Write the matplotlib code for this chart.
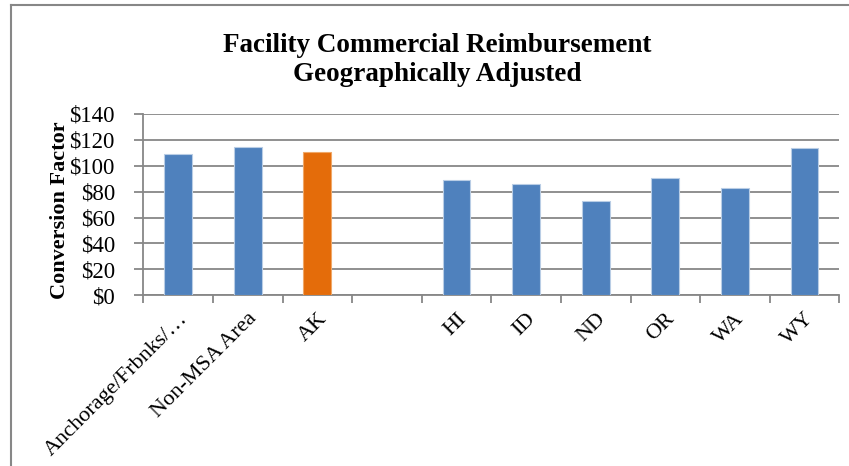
import numpy as np
import matplotlib

matplotlib.use('agg')

import matplotlib.pyplot as plt

categories = ['Anchorage/Frbnks/…', 'Non-MSA Area', 'AK', '',
              'HI', 'ID', 'ND', 'OR', 'WA', 'WY']
values = [108.9, 114.3, 110.7, np.nan, 88.8, 85.9, 72.6, 90.3, 83.1, 114.0]
highlight = 'AK'
y_ticks = [0, 20, 40, 60, 80, 100, 120, 140]

BLUE = '#4F81BD'
ORANGE = '#E46C0A'
GRID = '#878787'

plt.rcParams['font.family'] = ['Liberation Serif', 'DejaVu Serif']


def main():
    fig = plt.figure(figsize=(8.49, 4.66), dpi=100)
    ax = fig.add_axes([0.1688, 0.3663, 0.9886 - 0.1688, 0.7554 - 0.3663])

    x = np.arange(len(categories))
    colors = [ORANGE if c == highlight else BLUE for c in categories]
    edges = ['#F0A868' if c == highlight else '#B9CDE5' for c in categories]
    ax.bar(x, values, width=0.4, color=colors, edgecolor=edges,
           linewidth=0.8, zorder=3)

    ax.set_xlim(-0.5, len(categories) - 0.5)
    ax.set_ylim(0, 140)
    ax.set_yticks(y_ticks)
    ax.set_yticklabels(['$%d' % v for v in y_ticks], fontsize=16.5)
    ax.yaxis.grid(True, color=GRID, linewidth=1.3, zorder=0)

    ax.set_xticks(x)
    ax.set_xticklabels(categories, rotation=45, ha='right', va='top',
                       rotation_mode='anchor', fontsize=16)
    ax.tick_params(axis='x', length=0, pad=10)
    ax.set_xticks(np.arange(len(categories) + 1) - 0.5, minor=True)
    ax.tick_params(axis='x', which='minor', length=6, color=GRID, width=1.3)
    ax.tick_params(axis='y', length=6.5, color=GRID, width=1.3, pad=14)

    for side in ['top', 'right']:
        ax.spines[side].set_visible(False)
    for side in ['left', 'bottom']:
        ax.spines[side].set_color(GRID)
        ax.spines[side].set_linewidth(1.3)

    ax.set_ylabel('Conversion Factor', fontsize=16, fontweight='bold')
    ax.yaxis.set_label_coords(-0.105, 0.472)

    fig.text(0.515, 0.872, 'Facility Commercial Reimbursement\nGeographically Adjusted',
             ha='center', va='center', fontsize=19.5, fontweight='bold',
             linespacing=1.22)

    # chart frame, only left and top edges show in the crop
    fig.add_artist(plt.Line2D([0.013, 0.013], [0, 0.989], color=GRID,
                              linewidth=1.5, transform=fig.transFigure))
    fig.add_artist(plt.Line2D([0.013, 1.0], [0.989, 0.989], color=GRID,
                              linewidth=1.5, transform=fig.transFigure))

    fig.savefig('out.png', dpi=100)


if __name__ == '__main__':
    main()
